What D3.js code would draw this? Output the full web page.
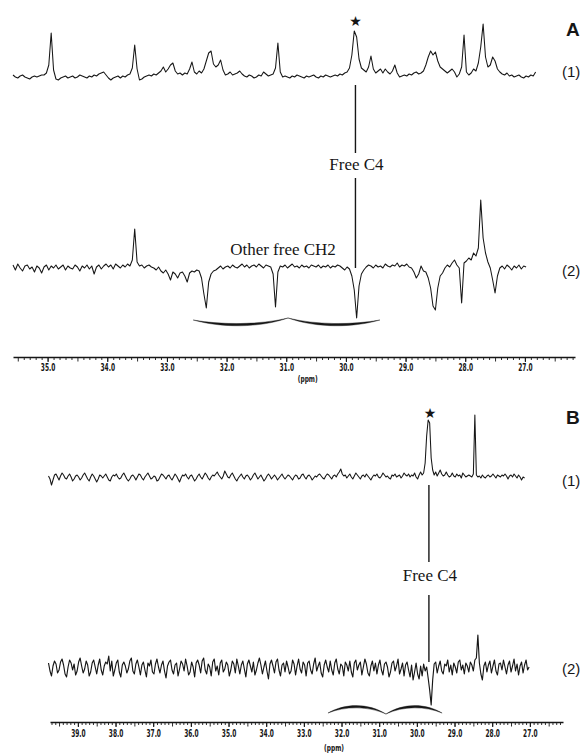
<!DOCTYPE html>
<html><head><meta charset="utf-8">
<script src="https://cdn.jsdelivr.net/npm/d3@7/dist/d3.min.js"></script>
<style>body{margin:0;background:#fff}svg{display:block}</style>
</head><body>
<svg id="c" width="582" height="756"></svg>
<script>
// ---- data (ppm grid: start ppm, step 0.04 ppm; intensities in arbitrary units) ----
const stepPpm = 0.04;
const startA = 35.58;
const startB = 39.78;

const specA1 = [
 2,0,-1,1,2,0,-1,-2,0,1,
 0,1,2,2,4,12,44,7,-2,-3,
 -1,0,1,-1,0,1,-1,0,2,1,
 0,-1,1,0,2,1,3,4,5,2,
 -1,-3,-1,0,1,-1,1,0,2,3,
 9,32,8,-3,-2,0,1,2,1,3,
 2,4,6,10,5,8,12,14,6,3,
 4,2,4,3,8,15,5,3,6,4,
 8,16,24,26,13,10,12,17,7,2,
 3,5,2,3,4,6,3,1,0,2,
 1,-1,0,2,1,5,3,1,2,3,
 9,34,5,0,1,0,-1,1,0,2,
 1,0,-1,1,0,1,2,0,-1,1,
 0,2,1,0,1,2,1,3,2,4,
 5,9,22,46,40,18,9,7,5,10,
 21,8,4,6,8,4,8,5,3,6,
 12,4,0,1,2,1,3,2,4,5,
 3,4,6,12,20,26,22,25,16,10,
 8,6,4,6,8,5,0,3,10,42,
 5,2,4,8,6,14,30,53,20,10,
 12,20,16,8,5,3,2,4,1,2,
 0,1,2,0,-1,1,0,2,1,5
];

const specA2 = [
 3,-2,4,0,-3,2,3,-1,1,-4,
 2,0,-5,1,3,-2,2,0,3,-1,
 1,3,-2,2,0,-1,3,1,-3,2,
 0,3,-1,2,-6,1,3,-1,2,4,
 1,3,-1,4,2,0,3,1,4,2,
 8,39,6,2,3,0,2,3,1,0,
 -2,1,-3,-5,-2,-6,-12,-4,-6,-10,
 -5,-4,-8,-14,-5,-3,-4,-2,-3,-10,
 -26,-40,-14,-6,-3,-2,0,2,-1,1,
 2,0,3,1,0,2,4,1,3,0,
 2,3,1,4,2,0,3,2,1,-6,
 -39,-4,2,1,3,0,2,4,1,2,
 0,3,1,2,0,3,2,1,3,0,
 2,1,3,0,2,1,3,2,0,-2,
 1,-1,-8,-22,-50,-18,-6,-2,1,3,
 2,0,3,1,2,0,4,2,1,3,
 2,5,1,3,2,4,1,0,-4,-10,
 -6,2,-3,-4,-10,-20,-38,-42,-20,-8,
 -5,0,3,1,5,8,3,0,-35,5,
 7,10,8,15,12,20,68,30,15,6,
 0,-12,-25,-8,0,2,-1,3,1,-2,
 2,0,3,-1,2,1
];

const specB1 = [
 2,-1,-7,-2,3,4,1,-2,2,5,
 3,0,-1,2,4,1,-3,-1,2,3,
 1,-2,0,3,5,2,-1,-3,1,4,
 2,-1,-4,-1,3,2,0,2,4,1,
 -2,-3,1,3,2,4,1,-1,0,3,
 5,2,-1,-3,-1,2,3,1,-2,1,
 4,3,0,-2,1,3,5,2,-1,0,
 2,1,-3,-2,1,4,3,1,-1,2,
 3,0,-2,1,4,2,-1,-4,0,3,
 2,4,1,-1,2,3,0,-3,-1,2,
 4,1,-1,2,5,3,0,-2,1,3,
 2,4,6,3,1,-1,2,7,4,1,
 0,3,5,2,-1,-3,0,2,4,1,
 -1,2,3,1,-2,0,3,5,2,-1,
 1,3,0,-3,-1,2,4,2,-1,1,
 3,1,-2,0,2,4,1,-1,1,3,
 2,0,-2,1,3,2,-1,0,3,4,
 1,-1,2,3,1,-2,0,2,1,3,
 4,2,0,-1,2,4,3,1,-1,2,
 3,1,4,6,9,4,2,3,0,2,
 4,1,-1,2,5,3,1,-1,2,3,
 1,4,2,0,-2,1,3,2,4,1,
 0,2,5,3,1,2,0,-1,3,2,
 4,1,2,3,0,2,5,3,2,4,
 1,3,2,5,1,-1,3,6,3,5,
 15,42,58,55,20,8,3,6,2,5,
 8,4,2,3,6,3,1,2,5,2,
 1,4,2,3,0,5,3,1,2,3,
 2,1,4,63,3,1,2,0,3,1,
 0,2,3,1,2,4,2,0,3,2,
 1,3,2,4,2,-1,2,3,1,4,
 2,0,3,1,-2,1,0
];

const specB2 = [
 5,-3,-8,2,7,4,-5,-2,6,9,
 3,-6,-9,1,8,5,-2,4,-7,-3,
 6,10,2,-5,-1,7,3,-8,-4,5,
 8,1,-6,3,9,-2,-7,2,6,4,
 12,-3,7,-8,-2,5,8,-4,-9,3,
 6,2,-5,-1,7,10,-3,-6,4,8,
 1,-7,3,6,-2,-9,5,2,8,-4,
 -6,4,9,1,-5,3,7,-3,-10,2,
 6,8,-2,-6,3,5,-8,-1,7,4,
 -3,9,2,-7,-4,6,1,-9,5,8,
 3,-5,7,10,-2,-6,4,1,-8,6,
 9,-3,2,-7,5,8,-4,-1,6,3,
 -8,-2,7,4,-5,9,2,-6,3,7,
 -1,-9,4,8,2,-4,6,-7,-2,5,
 10,3,-6,1,7,-3,-11,4,8,2,
 -5,6,9,-2,-8,3,5,-4,7,1,
 -6,-3,8,4,-7,2,9,-1,-5,6,
 3,-8,5,7,-2,-6,4,10,-3,2,
 6,-5,-9,3,8,1,-4,7,-2,-7,
 5,9,-1,-6,4,2,-8,6,3,-3,
 7,-4,-9,5,8,-2,3,6,-7,1,
 9,4,-5,-8,2,7,-3,5,-6,3,
 8,-2,-7,4,6,1,-9,-4,5,7,
 -3,2,9,-6,-1,5,-8,3,6,-2,
 -9,3,-12,-4,5,-6,-11,2,-8,4,
 -3,1,-10,-22,-37,-12,4,6,-5,2,
 7,-3,-6,4,2,8,-4,3,-7,5,
 1,-5,6,8,-2,3,-6,5,2,-4,
 6,3,-3,8,10,33,5,-6,-12,2,
 6,-4,3,7,-5,2,8,-3,-7,4,
 5,-2,8,1,-6,3,7,-4,2,9,
 -3,4,-7,2,6,-5,3,8,-2,1
];

const ticksA = [35, 34, 33, 32, 31, 30, 29, 28, 27];
const ticksB = [39, 38, 37, 36, 35, 34, 33, 32, 31, 30, 29, 28, 27];
const freeC4Ppm = [29.84, 29.68];          // panel A, panel B
const braceAPpm = [32.56, 30.97, 29.43];   // left, cusp, right
const braceBPpm = [32.36, 30.82, 29.33];

// ---- drawing ----
const svg = d3.select('#c');
const ink = '#161616';
const narrow = "'Liberation Sans Narrow','DejaVu Sans Condensed',sans-serif";
const serif = "'Liberation Serif','Times New Roman',serif";
const xA = d3.scaleLinear().domain([35.58, 26.16]).range([13, 575]);
const xB = d3.scaleLinear().domain([39.74, 26.12]).range([50, 563]);

function trace(vals, start, x, base, w) {
  const y = d3.scaleLinear().domain([0, 100]).range([base, base - 100]);
  const line = d3.line().x((d, i) => x(start - i * stepPpm)).y(d => y(d));
  svg.append('path').attr('d', line(vals)).attr('fill', 'none')
    .attr('stroke', ink).attr('stroke-width', w).attr('stroke-linejoin', 'round');
}

function axis(x, y, majors, labPad) {
  const [lo, hi] = x.domain();
  const minor = d3.range(Math.ceil(hi * 10), Math.floor(lo * 10) + 1).map(v => v / 10);
  const g = svg.append('g').attr('transform', `translate(0,${y})`);
  g.call(d3.axisBottom(x).tickValues(minor).tickSize(3).tickSizeOuter(0).tickFormat(''));
  g.select('.domain').remove();
  g.selectAll('.tick line').attr('stroke', ink).attr('stroke-width', 0.9)
    .attr('y2', d => Math.abs(d * 2 - Math.round(d * 2)) < 1e-6 ? 4.5 : 3);
  const g2 = svg.append('g').attr('transform', `translate(0,${y})`);
  g2.call(d3.axisBottom(x).tickValues(majors).tickSize(5).tickSizeOuter(0)
    .tickPadding(labPad).tickFormat(d3.format('.1f')));
  g2.select('.domain').attr('stroke', ink).attr('stroke-width', 1.6);
  g2.selectAll('.tick line').attr('stroke', ink).attr('stroke-width', 1);
  g2.selectAll('.tick text').attr('fill', ink)
    .style('font-family', narrow).style('font-size', '10.5px').style('font-weight', '700')
    .attr('textLength', 14.5).attr('lengthAdjust', 'spacingAndGlyphs');
}

function label(txt, x, y, opts) {
  const t = svg.append('text').attr('x', x).attr('y', y).text(txt).attr('fill', ink)
    .attr('text-anchor', opts.anchor || 'start')
    .style('font-family', opts.family || "'Liberation Sans',Arial,sans-serif")
    .style('font-size', opts.size + 'px').style('font-weight', opts.weight || 400);
  if (opts.len) t.attr('textLength', opts.len).attr('lengthAdjust', 'spacingAndGlyphs');
  return t;
}

function vline(x, y1, y2) {
  svg.append('line').attr('x1', x).attr('x2', x).attr('y1', y1).attr('y2', y2)
    .attr('stroke', ink).attr('stroke-width', 1.4);
}

function brace(x, ppms, yEnd, cUp, cLow) {
  const [a, t, b] = ppms.map(p => x(p));
  const la = (t - a), lb = (b - t);
  const yT = yEnd - (cUp > yEnd ? 2 : -1);
  const p = d3.path();
  p.moveTo(a, yEnd);
  p.bezierCurveTo(a + la * 0.3, cUp, t - la * 0.3, cUp, t, yT);
  p.bezierCurveTo(t + lb * 0.3, cUp, b - lb * 0.3, cUp, b, yEnd);
  p.bezierCurveTo(b - lb * 0.3, cLow, t + lb * 0.3, cLow, t, yT);
  p.bezierCurveTo(t - la * 0.3, cLow, a + la * 0.3, cLow, a, yEnd);
  p.closePath();
  svg.append('path').attr('d', p.toString()).attr('fill', ink).attr('stroke', ink).attr('stroke-width', 0.4);
}

// Panel A
trace(specA1, startA, xA, 77, 1.05);
trace(specA2, startA, xA, 268, 1.05);
axis(xA, 357, ticksA, 2);
label('(ppm)', xA(30.64), 382, {anchor: 'middle', size: 9.5, weight: 700, len: 20, family: narrow});
label('\u2605', xA(freeC4Ppm[0]), 26, {anchor: 'middle', size: 14, family: "'DejaVu Sans',sans-serif"});
vline(xA(freeC4Ppm[0]), 85, 153);
vline(xA(freeC4Ppm[0]), 178, 268);
label('Free C4', xA(freeC4Ppm[0]) + 1, 170, {anchor: 'middle', size: 17, family: serif});
label('Other free CH2', 283, 255, {anchor: 'middle', size: 17, family: serif});
brace(xA, braceAPpm, 320, 325, 328);
label('A', 566, 36, {size: 19, weight: 700});
label('(1)', 562, 77, {size: 15});
label('(2)', 562, 276, {size: 15});

// Panel B
trace(specB1, startB, xB, 478, 1.05);
trace(specB2, startB, xB, 668, 1.15);
axis(xB, 722, ticksB, 3);
label('(ppm)', xB(32.2), 751, {anchor: 'middle', size: 9.5, weight: 700, len: 20, family: narrow});
label('\u2605', xB(freeC4Ppm[1]) + 1, 418, {anchor: 'middle', size: 14, family: "'DejaVu Sans',sans-serif"});
vline(xB(freeC4Ppm[1]), 485, 562);
vline(xB(freeC4Ppm[1]), 595, 662);
label('Free C4', xB(freeC4Ppm[1]) + 1, 581, {anchor: 'middle', size: 17, family: serif});
brace(xB, braceBPpm, 713, 706, 703);
label('B', 566, 424, {size: 19, weight: 700});
label('(1)', 562, 486, {size: 15});
label('(2)', 562, 674, {size: 15});
</script>
</body></html>
